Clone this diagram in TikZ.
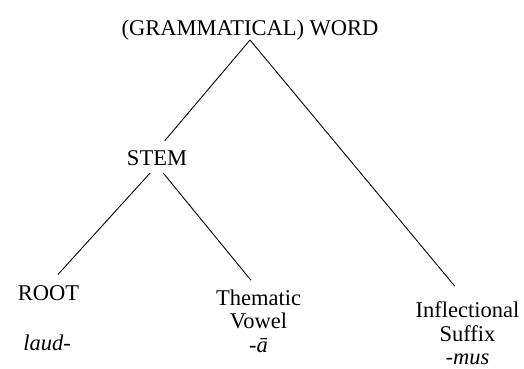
\documentclass[tikz,border=0pt]{standalone}
\usepackage{fontspec}
\setmainfont{Liberation Serif}
\begin{document}
\begin{tikzpicture}[x=1pt,y=-1pt,
  lbl/.style={inner sep=0pt, font=\fontsize{22.5}{23.5}\selectfont},
  multi/.style={lbl, align=center, anchor=north},
  branch/.style={line width=0.9pt, shorten >=12pt}]
\useasboundingbox (0,0) rectangle (524,368);
\node[lbl, anchor=base] (word) at (250,35) {(GRAMMATICAL) WORD};
\node[lbl, anchor=base] (stem) at (157,165) {STEM};
\node[lbl, anchor=base] (root) at (48.5,300) {ROOT};
\node[lbl, anchor=base] (laud) at (47,350) {\itshape laud-};
\node[multi] (them) at (258.5,289.5) {Thematic\\Vowel\\\itshape -ā};
\node[multi] (infl) at (467.5,301.5) {Inflectional\\Suffix\\\itshape -mus};
\draw[branch] (word.south) -- (stem.north);
\draw[branch, shorten >=20pt] (word.south) -- (infl.north);
\draw[branch, shorten <=10pt, shorten >=14pt] (stem.south) -- (root.north);
\draw[branch, shorten <=10pt] (stem.south) -- (them.north);
\end{tikzpicture}
\end{document}
